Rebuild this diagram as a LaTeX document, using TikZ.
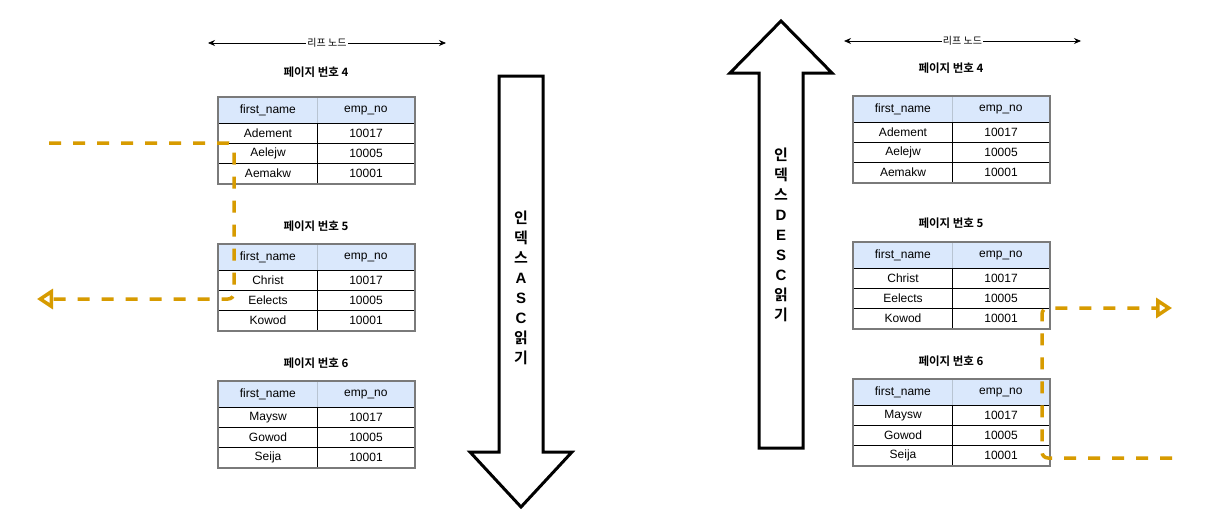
\documentclass[tikz,border=0pt]{standalone}
\usepackage{fontspec}
\setmainfont{Liberation Sans}
\newfontfamily\krfont{Noto Sans CJK KR}[BoldFont={Noto Sans CJK KR Bold}]
\usetikzlibrary{arrows.meta}

\definecolor{hdrfill}{HTML}{DAE8FC}
\definecolor{hdrline}{HTML}{B8C4D2}
\definecolor{tblframe}{HTML}{7A7A7A}
\definecolor{scanorange}{HTML}{D79B00}

% Korean glyphs in the CJK face, Latin letters in the main face
\newcommand{\kc}[1]{{\krfont\bfseries #1}}

\tikzset{
  hcell/.style={draw=hdrline, fill=hdrfill, line width=0.8pt, minimum height=26pt,
    inner sep=0pt, anchor=north west, font=\fontsize{12}{14}\selectfont},
  rcell/.style={draw=black, line width=1pt, minimum height=20pt,
    inner sep=0pt, anchor=north west, font=\fontsize{12}{14}\selectfont},
  colA/.style={minimum width=99pt},
  colB/.style={minimum width=97pt},
  tblborder/.style={draw=tblframe, line width=1.5pt},
  pagetitle/.style={font=\krfont\bfseries\fontsize{11.5}{13}\selectfont, inner sep=0pt},
  leafline/.style={line width=0.8pt, {Stealth[length=7pt,width=6pt]}-{Stealth[length=7pt,width=6pt]}},
  leaflabel/.style={fill=white, inner sep=1pt, font=\krfont\fontsize{10}{11}\selectfont},
  bigarrow/.style={draw=black, fill=white, line width=3pt, line join=miter},
  arrowtext/.style={font=\bfseries\fontsize{15}{20}\selectfont, align=center, inner sep=0pt},
  scanpath/.style={draw=scanorange, line width=3.5pt, dash pattern=on 12pt off 12pt,
    rounded corners=6pt, -{Triangle[open, length=16pt, width=20pt]}},
}

% one leaf page: name, left x, top y, title y, page no, three first names
\newcommand{\pagetable}[8]{%
  \node[pagetitle] (#1-title) at ({#2+98},#4) {페이지 번호 #5};
  \node[hcell,colA] (#1-h1) at (#2,#3) {first\_name};
  \node[hcell,colB] (#1-h2) at ({#2+99},#3) {emp\_no};
  \node[rcell,colA] (#1-a1) at (#2,{#3+26}) {#6};
  \node[rcell,colB] (#1-b1) at ({#2+99},{#3+26}) {10017};
  \node[rcell,colA] (#1-a2) at (#2,{#3+46}) {#7};
  \node[rcell,colB] (#1-b2) at ({#2+99},{#3+46}) {10005};
  \node[rcell,colA] (#1-a3) at (#2,{#3+66}) {#8};
  \node[rcell,colB] (#1-b3) at ({#2+99},{#3+66}) {10001};
  \draw[tblborder] (#1-h1.north west) rectangle (#1-b3.south east);
}

\begin{document}
\begin{tikzpicture}[x=1pt, y=-1pt]
\useasboundingbox[fill=white] (0,0) rectangle (1207,522);

% ---------- ascending scan ----------
\coordinate (ll-a) at (208,43);
\coordinate (ll-b) at (446,43);
\draw[leafline] (ll-a) -- node[leaflabel] (ll-text) {리프 노드} (ll-b);

\pagetable{pl4}{218}{97}{72}{4}{Adement}{Aelejw}{Aemakw}
\pagetable{pl5}{218}{244}{226}{5}{Christ}{Eelects}{Kowod}
\pagetable{pl6}{218}{381}{363}{6}{Maysw}{Gowod}{Seija}

\draw[bigarrow] (499,76) -- (543,76) -- (543,452) -- (572,452) -- (521,507)
  -- (470,452) -- (499,452) -- cycle;
\node[arrowtext] (asc-text) at (521,288)
  {\kc{인}\\\kc{덱}\\\kc{스}\\A\\S\\C\\\kc{읽}\\\kc{기}};

\coordinate (asc-start) at (49,143);
\coordinate (asc-end) at (37,299);
\coordinate (asc-turn) at (234,0);
\draw[scanpath] (asc-start) -- (asc-start -| asc-turn) -- (asc-end -| asc-turn) -- (asc-end);

% ---------- descending scan ----------
\coordinate (lr-a) at (844,41);
\coordinate (lr-b) at (1081,41);
\draw[leafline] (lr-a) -- node[leaflabel] (lr-text) {리프 노드} (lr-b);

\pagetable{pr4}{853}{96}{68}{4}{Adement}{Aelejw}{Aemakw}
\pagetable{pr5}{853}{242}{223}{5}{Christ}{Eelects}{Kowod}
\pagetable{pr6}{853}{379}{361}{6}{Maysw}{Gowod}{Seija}

\draw[bigarrow] (759,448) -- (803,448) -- (803,73) -- (832,73) -- (781,21)
  -- (730,73) -- (759,73) -- cycle;
\node[arrowtext] (desc-text) at (781,235)
  {\kc{인}\\\kc{덱}\\\kc{스}\\D\\E\\S\\C\\\kc{읽}\\\kc{기}};

\coordinate (desc-start) at (1172,458);
\coordinate (desc-end) at (1172,308);
\coordinate (desc-turn) at (1042,0);
\draw[scanpath] (desc-start) -- (desc-start -| desc-turn) -- (desc-end -| desc-turn) -- (desc-end);
\end{tikzpicture}
\end{document}
